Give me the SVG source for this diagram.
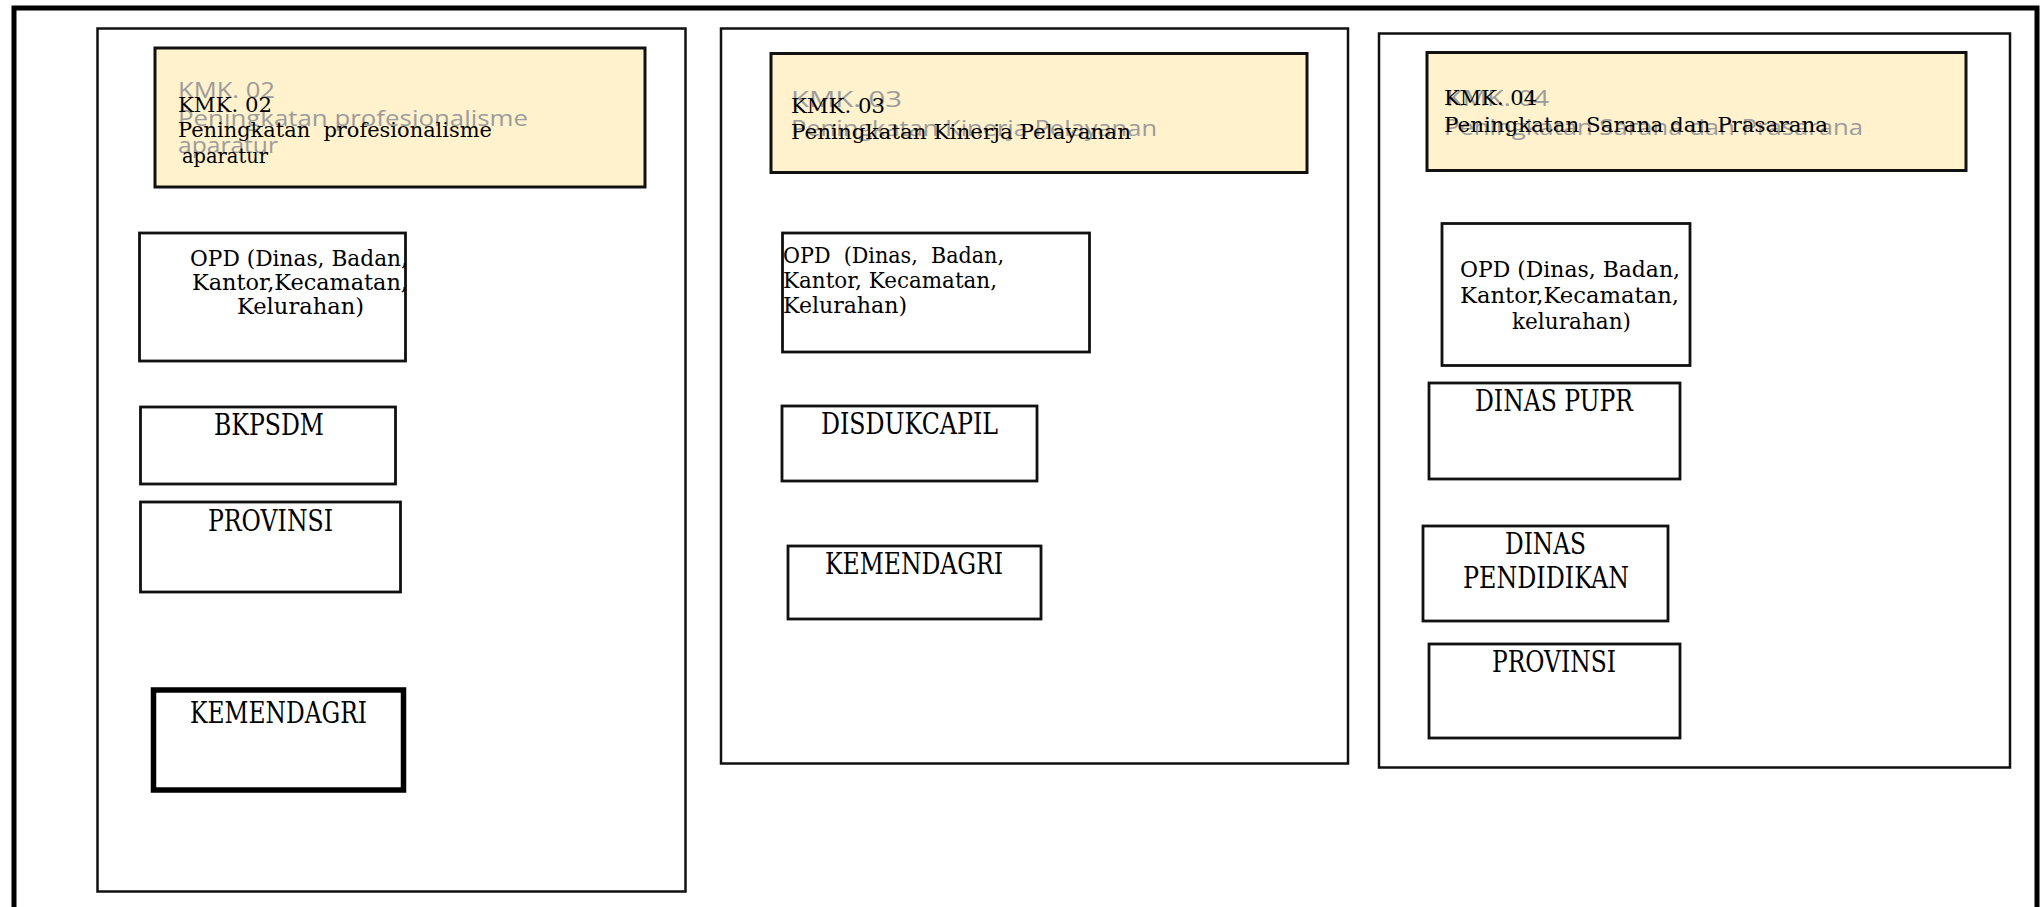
<svg xmlns="http://www.w3.org/2000/svg" width="2040" height="907" viewBox="0 0 2040 907">
<style>
.frame{fill:none;stroke:#000;stroke-width:5}
.panel{fill:#fff;stroke:#111;stroke-width:2.5}
.kmk{fill:#FFF2CC;stroke:#111;stroke-width:3}
.box{fill:#fff;stroke:#111;stroke-width:2.8}
.thick{fill:#fff;stroke:#000;stroke-width:5.5}
.ghost{font-family:"Open Sans","Liberation Sans",sans-serif;font-size:22px;fill:#9c9c9c}
.t{font-family:"DejaVu Serif","Liberation Serif",serif;font-size:21px;fill:#000}
.o{font-family:"DejaVu Serif","Liberation Serif",serif;font-size:22px;fill:#000}
.l{font-family:"DejaVu Serif","Liberation Serif",serif;font-size:29px;fill:#000}
</style>
<rect width="2040" height="907" fill="#fff"/>
<rect class="frame" x="14" y="8" width="2023" height="960"/>

<g id="panel-kmk02">
<rect class="panel" x="97.5" y="28.5" width="588" height="863"/>
</g>
<g id="panel-kmk03">
<rect class="panel" x="721" y="28.5" width="627" height="735"/>
</g>
<g id="panel-kmk04">
<rect class="panel" x="1379" y="33.5" width="631" height="734"/>
</g>

<g id="kmk02">
<rect class="kmk" x="155" y="48" width="490" height="139"/>
<text class="ghost" x="178" y="98" textLength="97" lengthAdjust="spacingAndGlyphs">KMK. 02</text>
<text class="ghost" x="178" y="126" textLength="350" lengthAdjust="spacingAndGlyphs">Peningkatan profesionalisme</text>
<text class="ghost" x="178" y="153" textLength="100" lengthAdjust="spacingAndGlyphs">aparatur</text>
<text class="t" x="178" y="112" textLength="94" lengthAdjust="spacingAndGlyphs">KMK. 02</text>
<text class="t" x="178" y="137" textLength="314" lengthAdjust="spacingAndGlyphs" xml:space="preserve">Peningkatan  profesionalisme</text>
<text class="t" x="182" y="163" textLength="86" lengthAdjust="spacingAndGlyphs">aparatur</text>
</g>

<g id="kmk03">
<rect class="kmk" x="771" y="53.5" width="536" height="119"/>
<text class="ghost" x="791" y="107" textLength="111" lengthAdjust="spacingAndGlyphs">KMK. 03</text>
<text class="ghost" x="791" y="136" textLength="366" lengthAdjust="spacingAndGlyphs">Peningkatan Kinerja Pelayanan</text>
<text class="t" x="791" y="113" textLength="94" lengthAdjust="spacingAndGlyphs">KMK. 03</text>
<text class="t" x="791" y="139" textLength="340" lengthAdjust="spacingAndGlyphs">Peningkatan Kinerja Pelayanan</text>
</g>

<g id="kmk04">
<rect class="kmk" x="1427" y="52.5" width="539" height="118"/>
<text class="ghost" x="1446" y="106" textLength="103" lengthAdjust="spacingAndGlyphs">KMK. 04</text>
<text class="ghost" x="1444" y="135" textLength="419" lengthAdjust="spacingAndGlyphs">Peningkatan Sarana dan Prasarana</text>
<text class="t" x="1444" y="105" textLength="93" lengthAdjust="spacingAndGlyphs">KMK. 04</text>
<text class="t" x="1444" y="132" textLength="384" lengthAdjust="spacingAndGlyphs">Peningkatan Sarana dan Prasarana</text>
</g>

<g id="opd1">
<rect class="box" x="139.5" y="233" width="266" height="128"/>
<text class="o" x="190" y="266" textLength="218" lengthAdjust="spacingAndGlyphs">OPD (Dinas, Badan,</text>
<text class="o" x="192" y="290" textLength="216" lengthAdjust="spacingAndGlyphs">Kantor,Kecamatan,</text>
<text class="o" x="237" y="314" textLength="127" lengthAdjust="spacingAndGlyphs">Kelurahan)</text>
</g>

<g id="bkpsdm">
<rect class="box" x="140.5" y="407" width="255" height="77"/>
<text class="l" x="214" y="435" textLength="110" lengthAdjust="spacingAndGlyphs">BKPSDM</text>
</g>

<g id="provinsi1">
<rect class="box" x="140.5" y="502" width="260" height="90"/>
<text class="l" x="208" y="531" textLength="125" lengthAdjust="spacingAndGlyphs">PROVINSI</text>
</g>

<g id="kemendagri1">
<rect class="thick" x="153.5" y="690" width="250" height="100"/>
<text class="l" x="190" y="723" textLength="177" lengthAdjust="spacingAndGlyphs">KEMENDAGRI</text>
</g>

<g id="opd2">
<rect class="box" x="782.5" y="233" width="307" height="119"/>
<text class="o" x="783" y="263" textLength="221" lengthAdjust="spacingAndGlyphs" xml:space="preserve">OPD  (Dinas,  Badan,</text>
<text class="o" x="783" y="288" textLength="214" lengthAdjust="spacingAndGlyphs">Kantor, Kecamatan,</text>
<text class="o" x="783" y="313" textLength="124" lengthAdjust="spacingAndGlyphs">Kelurahan)</text>
</g>

<g id="disdukcapil">
<rect class="box" x="782" y="406" width="255" height="75"/>
<text class="l" x="821" y="434" textLength="177" lengthAdjust="spacingAndGlyphs">DISDUKCAPIL</text>
</g>

<g id="kemendagri2">
<rect class="box" x="788" y="546" width="253" height="73"/>
<text class="l" x="825" y="574" textLength="178" lengthAdjust="spacingAndGlyphs">KEMENDAGRI</text>
</g>

<g id="opd3">
<rect class="box" x="1442" y="223.5" width="248" height="142"/>
<text class="o" x="1460" y="277" textLength="220" lengthAdjust="spacingAndGlyphs">OPD (Dinas, Badan,</text>
<text class="o" x="1460" y="303" textLength="219" lengthAdjust="spacingAndGlyphs">Kantor,Kecamatan,</text>
<text class="o" x="1512" y="329" textLength="119" lengthAdjust="spacingAndGlyphs">kelurahan)</text>
</g>

<g id="dinas-pupr">
<rect class="box" x="1429" y="383" width="251" height="96"/>
<text class="l" x="1475" y="411" textLength="158" lengthAdjust="spacingAndGlyphs">DINAS PUPR</text>
</g>

<g id="dinas-pendidikan">
<rect class="box" x="1423" y="526" width="245" height="95"/>
<text class="l" x="1505" y="554" textLength="81" lengthAdjust="spacingAndGlyphs">DINAS</text>
<text class="l" x="1463" y="588" textLength="166" lengthAdjust="spacingAndGlyphs">PENDIDIKAN</text>
</g>

<g id="provinsi3">
<rect class="box" x="1429" y="644" width="251" height="94"/>
<text class="l" x="1492" y="672" textLength="124" lengthAdjust="spacingAndGlyphs">PROVINSI</text>
</g>

<g id="connectors"></g>
</svg>
